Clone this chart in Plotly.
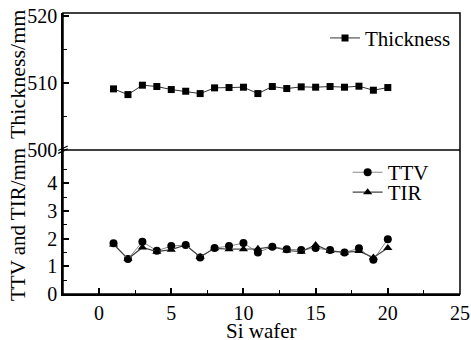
import plotly.graph_objects as go

wafer = list(range(1, 21))
thickness = [509.1, 508.25, 509.65, 509.45, 509.0, 508.75, 508.4, 509.25, 509.3, 509.35,
             508.4, 509.45, 509.15, 509.4, 509.35, 509.45, 509.35, 509.5, 508.9, 509.3]
ttv = [1.83, 1.26, 1.89, 1.56, 1.73, 1.77, 1.32, 1.66, 1.73, 1.84,
       1.50, 1.71, 1.62, 1.59, 1.66, 1.59, 1.50, 1.65, 1.24, 1.98]
tir = [1.79, 1.27, 1.68, 1.53, 1.60, 1.77, 1.34, 1.65, 1.62, 1.62,
       1.63, 1.71, 1.57, 1.53, 1.77, 1.55, 1.50, 1.55, 1.32, 1.66]

top_ticks = [500, 510, 520]
bottom_ticks = [0, 1, 2, 3, 4]
x_ticks = [0, 5, 10, 15, 20, 25]

FONT = "Liberation Serif"
split = 0.5125

fig = go.Figure()
fig.add_trace(go.Scatter(x=wafer, y=thickness, name="Thickness", mode="lines+markers",
                         line=dict(color="#333333", width=1),
                         marker=dict(symbol="square", size=7, color="black"),
                         xaxis="x", yaxis="y2", legend="legend"))
fig.add_trace(go.Scatter(x=wafer, y=ttv, name="TTV", mode="lines+markers",
                         line=dict(color="#8a8a8a", width=1),
                         marker=dict(symbol="circle", size=8, color="black"),
                         xaxis="x", yaxis="y", legend="legend2"))
fig.add_trace(go.Scatter(x=wafer, y=tir, name="TIR", mode="lines+markers",
                         line=dict(color="#444444", width=1.2),
                         marker=dict(symbol="triangle-up", size=8, color="black"),
                         xaxis="x", yaxis="y", legend="legend3"))

axis_common = dict(showline=True, linecolor="black", linewidth=1.5, ticks="inside",
                   ticklen=6, tickwidth=1.5, tickcolor="black", showgrid=False,
                   zeroline=False, automargin=False,
                   tickfont=dict(family=FONT, size=20, color="black"))

legend_common = dict(xanchor="left", yanchor="top", bgcolor="rgba(0,0,0,0)",
                     font=dict(family=FONT, size=21), itemwidth=30, tracegroupgap=0)

fig.update_layout(
    width=471, height=340, autosize=False,
    margin=dict(l=63, r=11, t=13, b=46, pad=0, autoexpand=False),
    paper_bgcolor="white", plot_bgcolor="white",
    font=dict(family=FONT, color="black"),
    xaxis=dict(range=[-2.5, 25], tickvals=x_ticks, anchor="y",
               minor=dict(tickvals=[-2.5, 2.5, 7.5, 12.5, 17.5, 22.5], ticks="inside",
                          ticklen=4, tickwidth=1.2, tickcolor="black"),
               **axis_common),
    yaxis=dict(domain=[0, split], range=[0, 5.2], tickvals=bottom_ticks, anchor="x",
               minor=dict(tickvals=[0.5, 1.5, 2.5, 3.5, 4.5], ticks="inside",
                          ticklen=4, tickwidth=1.2, tickcolor="black"),
               **axis_common),
    yaxis2=dict(domain=[split, 1], range=[500, 520.4], tickvals=top_ticks, anchor="x",
                minor=dict(tickvals=[505, 515], ticks="inside",
                           ticklen=4, tickwidth=1.2, tickcolor="black"),
                **axis_common),
    legend=dict(x=0.66, y=0.983, **legend_common),
    legend2=dict(x=0.717, y=0.505, **legend_common),
    legend3=dict(x=0.717, y=0.434, **legend_common),
    showlegend=True,
    shapes=[
        dict(type="rect", xref="paper", yref="paper", x0=0, x1=1, y0=0, y1=1,
             line=dict(color="black", width=1.5)),
        dict(type="line", xref="paper", yref="paper", x0=0, x1=1, y0=split, y1=split,
             line=dict(color="black", width=1.5)),
        dict(type="line", xref="paper", yref="paper", x0=-0.012, x1=0.012,
             y0=split - 0.012, y1=split + 0.004, line=dict(color="black", width=1.2)),
        dict(type="line", xref="paper", yref="paper", x0=-0.012, x1=0.012,
             y0=split - 0.002, y1=split + 0.014, line=dict(color="black", width=1.2)),
    ],
    annotations=[
        dict(text="Thickness/mm", xref="paper", yref="paper", x=-0.113, y=0.783,
             xanchor="center", yanchor="middle",
             textangle=-90, showarrow=False, font=dict(family=FONT, size=22)),
        dict(text="TTV and TIR/mm", xref="paper", yref="paper", x=-0.113, y=0.246,
             xanchor="center", yanchor="middle",
             textangle=-90, showarrow=False, font=dict(family=FONT, size=21)),
        dict(text="Si wafer", xref="paper", yref="paper", x=0.5, y=-0.133,
             xanchor="center", yanchor="middle", showarrow=False,
             font=dict(family=FONT, size=21)),
    ],
)

fig.write_html("out.html", config={"displayModeBar": False},
               post_script="document.body.style.margin='0';document.body.style.overflow='hidden';")
